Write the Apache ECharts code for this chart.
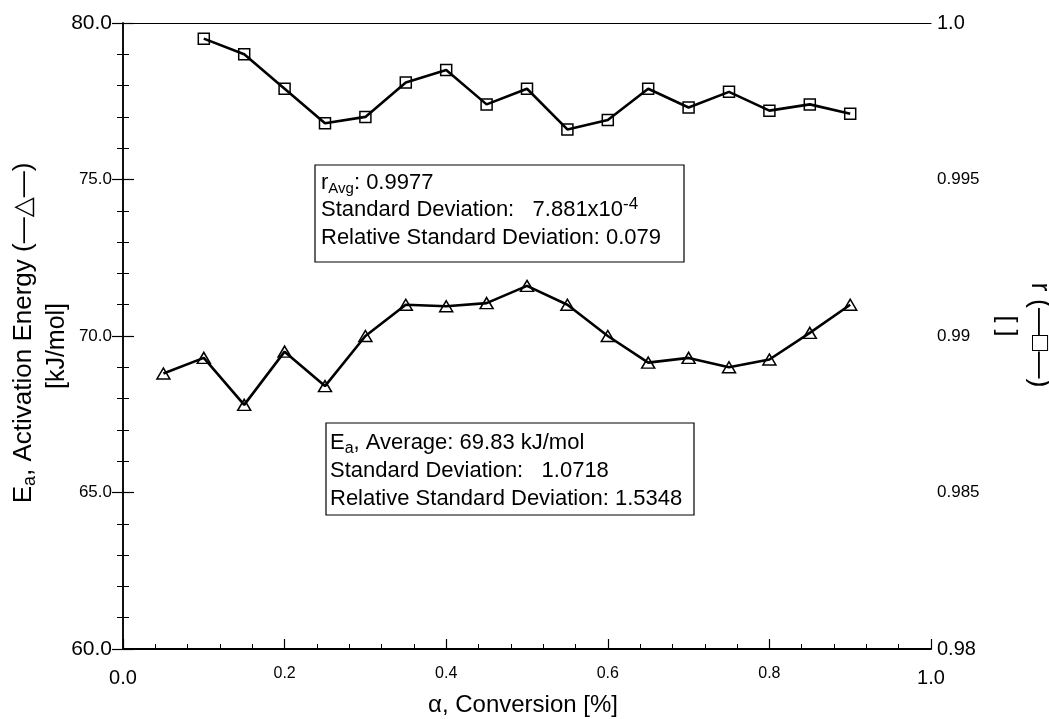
<!DOCTYPE html>
<html>
<head>
<meta charset="utf-8">
<title>Activation energy vs conversion</title>
<script src="https://cdn.jsdelivr.net/npm/echarts@6/dist/echarts.min.js"></script>
<style>
  html, body { margin: 0; padding: 0; background: #fff; }
  #chart { width: 1049px; height: 719px; }
</style>
</head>
<body>
<div id="chart"></div>
<script>
// activation energy (triangles), kJ/mol
const eaAlpha = [0.05, 0.1, 0.15, 0.2, 0.25, 0.3, 0.35, 0.4, 0.45, 0.5, 0.55, 0.6, 0.65, 0.7, 0.75, 0.8, 0.85, 0.9]
const eaValues = [68.8, 69.3, 67.8, 69.5, 68.4, 70.0, 71.0, 70.95, 71.05, 71.6, 71.0, 70.0, 69.15, 69.3, 69.0, 69.25, 70.1, 71.0]

// correlation coefficient r (squares)
const rAlpha = [0.1, 0.15, 0.2, 0.25, 0.3, 0.35, 0.4, 0.45, 0.5, 0.55, 0.6, 0.65, 0.7, 0.75, 0.8, 0.85, 0.9]
const rValues = [0.9995, 0.9990, 0.9979, 0.9968, 0.9970, 0.9981, 0.9985, 0.9974, 0.9979, 0.9966, 0.9969, 0.9979, 0.9973, 0.9978, 0.9972, 0.9974, 0.9971]

// tick labels
const xTickLabels = ['0.0', '0.2', '0.4', '0.6', '0.8', '1.0']
const leftTickLabels = ['60.0', '65.0', '70.0', '75.0', '80.0']
const rightTickLabels = ['0.98', '0.985', '0.99', '0.995', '1.0']

const FONT = '"Liberation Sans", Arial, "DejaVu Sans", sans-serif'

// first and last tick labels are printed larger than the inner ones
const tickFormatter = labels => (value, index) => {
  const text = labels[index]
  if (text === undefined) return ''
  const edge = index === 0 || index === labels.length - 1
  return edge ? `{big|${text}}` : `{small|${text}}`
}

// ticks point into the plot
const tickStyle = { show: true, inside: true, length: 11, lineStyle: { color: '#000', width: 1.2 } }
const minorStyle = { show: true, splitNumber: 5, length: 6, lineStyle: { color: '#000', width: 1 } }

const chart = echarts.init(document.getElementById('chart'))

const option = {
  animation: false,
  backgroundColor: '#fff',
  textStyle: { fontFamily: FONT, color: '#000' },
  grid: { left: 123, right: 118, top: 23, bottom: 70, outerBoundsMode: 'none' },
  xAxis: [
    {
      type: 'value',
      min: 0,
      max: 1,
      interval: 0.2,
      axisLine: { show: true, lineStyle: { color: '#000', width: 2 } },
      axisTick: { ...tickStyle, length: 10 },
      minorTick: { ...minorStyle, length: 5 },
      splitLine: { show: false },
      axisLabel: {
        margin: 15,
        color: '#000',
        formatter: tickFormatter(xTickLabels),
        rich: {
          big: { fontSize: 20, lineHeight: 28, fontFamily: FONT, color: '#000' },
          small: { fontSize: 16, lineHeight: 20, fontFamily: FONT, color: '#000' }
        }
      }
    },
    {
      type: 'value',
      position: 'top',
      min: 0,
      max: 1,
      axisLine: { show: true, lineStyle: { color: '#000', width: 1.2 } },
      axisTick: { show: false },
      axisLabel: { show: false },
      splitLine: { show: false }
    }
  ],
  yAxis: [
    {
      type: 'value',
      position: 'left',
      min: 60,
      max: 80,
      interval: 5,
      axisLine: { show: true, lineStyle: { color: '#000', width: 1.5 } },
      axisTick: tickStyle,
      minorTick: minorStyle,
      splitLine: { show: false },
      axisLabel: {
        margin: 11,
        color: '#000',
        formatter: tickFormatter(leftTickLabels),
        rich: {
          big: { fontSize: 21, fontFamily: FONT, color: '#000' },
          small: { fontSize: 17, fontFamily: FONT, color: '#000' }
        }
      }
    },
    {
      type: 'value',
      position: 'right',
      min: 0.98,
      max: 1.0,
      interval: 0.005,
      axisLine: { show: true, lineStyle: { color: '#000', width: 1.5 } },
      axisTick: tickStyle,
      minorTick: minorStyle,
      splitLine: { show: false },
      axisLabel: {
        margin: 6,
        color: '#000',
        formatter: tickFormatter(rightTickLabels),
        rich: {
          big: { fontSize: 20, fontFamily: FONT, color: '#000' },
          small: { fontSize: 17, fontFamily: FONT, color: '#000' }
        }
      }
    }
  ],
  series: [
    {
      name: 'Ea',
      type: 'line',
      xAxisIndex: 0,
      yAxisIndex: 0,
      data: eaAlpha.map((a, i) => [a, eaValues[i]]),
      symbol: 'triangle',
      symbolSize: [13, 11],
      showAllSymbol: true,
      lineStyle: { color: '#000', width: 2.6 },
      itemStyle: { color: 'rgba(0,0,0,0)', borderColor: '#000', borderWidth: 1.5 }
    },
    {
      name: 'r',
      type: 'line',
      xAxisIndex: 0,
      yAxisIndex: 1,
      data: rAlpha.map((a, i) => [a, rValues[i]]),
      symbol: 'rect',
      symbolSize: 11,
      showAllSymbol: true,
      lineStyle: { color: '#000', width: 2.6 },
      itemStyle: { color: 'rgba(0,0,0,0)', borderColor: '#000', borderWidth: 1.5 }
    }
  ],
  graphic: [
    // left axis title
    {
      type: 'text',
      x: 24,
      y: 333,
      rotation: Math.PI / 2,
      style: {
        text: 'E{sub|a}, Activation Energy (—△—)',
        fontSize: 26,
        fontFamily: FONT,
        fill: '#000',
        align: 'center',
        verticalAlign: 'middle',
        lineHeight: 30,
        rich: { sub: { fontSize: 18, lineHeight: 18, verticalAlign: 'bottom', fontFamily: FONT, fill: '#000' } }
      }
    },
    {
      type: 'text',
      x: 57,
      y: 346,
      rotation: Math.PI / 2,
      style: { text: '[kJ/mol]', fontSize: 25, fontFamily: FONT, fill: '#000', align: 'center', verticalAlign: 'middle' }
    },
    // right axis title
    {
      type: 'text',
      x: 1039,
      y: 335,
      rotation: -Math.PI / 2,
      style: { text: 'r (—□—)', fontSize: 27, fontFamily: FONT, fill: '#000', align: 'center', verticalAlign: 'middle' }
    },
    {
      type: 'text',
      x: 1006,
      y: 326,
      rotation: -Math.PI / 2,
      style: { text: '[ ]', fontSize: 25, fontFamily: FONT, fill: '#000', align: 'center', verticalAlign: 'middle' }
    },
    // x axis title
    {
      type: 'text',
      x: 523,
      y: 705,
      style: { text: 'α, Conversion [%]', fontSize: 24, fontFamily: FONT, fill: '#000', align: 'center', verticalAlign: 'middle' }
    },
    // r statistics box
    {
      type: 'group',
      x: 315,
      y: 165,
      children: [
        { type: 'rect', shape: { x: 0, y: 0, width: 369, height: 97 }, style: { fill: '#fff', stroke: '#000', lineWidth: 1.2 } },
        {
          type: 'text',
          x: 6,
          y: 45,
          style: {
            text: 'r{sub|Avg}: 0.9977\nStandard Deviation:   7.881x10{sup|-4}\nRelative Standard Deviation: 0.079',
            fontSize: 22,
            fontFamily: FONT,
            fill: '#000',
            align: 'left',
            verticalAlign: 'middle',
            lineHeight: 27.5,
            rich: {
              sub: { fontSize: 15, lineHeight: 15, verticalAlign: 'bottom', fontFamily: FONT, fill: '#000' },
              sup: { fontSize: 17, lineHeight: 17, verticalAlign: 'top', fontFamily: FONT, fill: '#000' }
            }
          }
        }
      ]
    },
    // Ea statistics box
    {
      type: 'group',
      x: 326,
      y: 423,
      children: [
        { type: 'rect', shape: { x: 0, y: 0, width: 368, height: 92 }, style: { fill: '#fff', stroke: '#000', lineWidth: 1.2 } },
        {
          type: 'text',
          x: 4,
          y: 47.5,
          style: {
            text: 'E{sub|a}, Average: 69.83 kJ/mol\nStandard Deviation:   1.0718\nRelative Standard Deviation: 1.5348',
            fontSize: 22,
            fontFamily: FONT,
            fill: '#000',
            align: 'left',
            verticalAlign: 'middle',
            lineHeight: 28,
            rich: {
              sub: { fontSize: 16, lineHeight: 16, verticalAlign: 'bottom', fontFamily: FONT, fill: '#000' }
            }
          }
        }
      ]
    }
  ]
}

chart.setOption(option)

window.addEventListener('resize', () => chart.resize())
</script>
</body>
</html>
